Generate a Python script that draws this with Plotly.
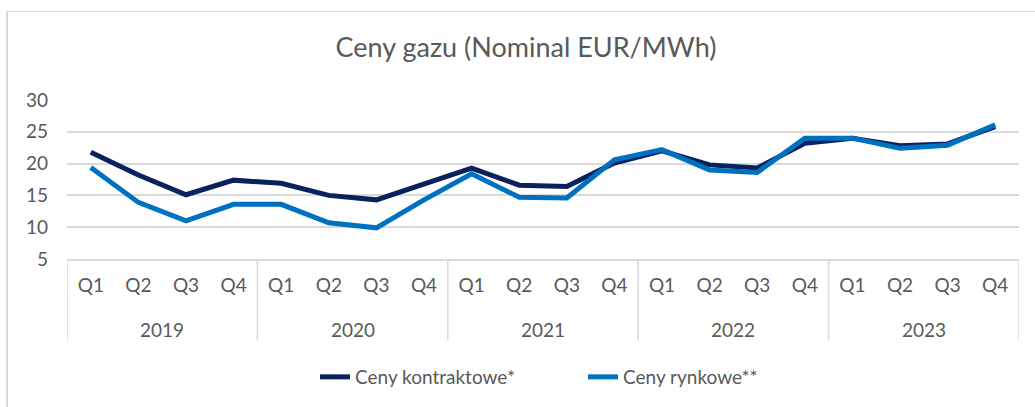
import plotly.graph_objects as go

years = ["2019", "2020", "2021", "2022", "2023"]
quarters = ["Q1", "Q2", "Q3", "Q4"]
contract = [21.8, 18.2, 15.1, 17.4, 16.9, 15.0, 14.3, 16.8, 19.3, 16.6, 16.4, 20.1,
            22.0, 19.8, 19.3, 23.2, 24.0, 22.8, 23.1, 25.8]
market = [19.4, 13.9, 11.0, 13.6, 13.6, 10.7, 9.9, 14.3, 18.4, 14.7, 14.6, 20.6,
          22.2, 19.0, 18.6, 24.0, 24.0, 22.4, 22.9, 26.1]
series_names = ["Ceny kontraktowe*", "Ceny rynkowe**"]
y_ticks = [5, 10, 15, 20, 25, 30]

labels = [q for _ in years for q in quarters]
idx = list(range(len(labels)))

W, H = 1035, 407
ml, mr, mt, mb = 67, 16, 100, 147
pw, ph = W - ml - mr, H - mt - mb

def py(p):
    return (H - mb - p) / ph

def px(p):
    return (p - ml) / pw

grey = "#595959"
gridc = "#D9D9D9"
font = "Lato"
fs = 19

fig = go.Figure()
fig.add_trace(go.Scatter(x=idx, y=contract, mode="lines", name=series_names[0],
                         line=dict(color="#0A2160", width=5)))
fig.add_trace(go.Scatter(x=idx, y=market, mode="lines", name=series_names[1],
                         line=dict(color="#0070C0", width=5)))

shapes = []
n = len(quarters)
for i in range(len(years) + 1):
    shapes.append(dict(type="line", xref="x", yref="paper", x0=i * n - 0.5, x1=i * n - 0.5,
                       y0=0, y1=py(342), line=dict(color=gridc, width=1.5)))
# outer chart border
shapes.append(dict(type="line", xref="paper", yref="paper", x0=px(7), x1=px(7),
                   y0=py(11), y1=py(420), line=dict(color=gridc, width=2)))
shapes.append(dict(type="line", xref="paper", yref="paper", x0=px(7), x1=px(1040),
                   y0=py(11), y1=py(11), line=dict(color=gridc, width=1)))

annotations = []
for i, yr in enumerate(years):
    annotations.append(dict(x=i * n + (n - 1) / 2, y=py(331), xref="x", yref="paper",
                            text=yr, showarrow=False, yanchor="middle",
                            font=dict(family=font, size=fs, color=grey)))

fig.update_layout(
    width=W, height=H,
    margin=dict(l=ml, r=mr, t=mt, b=mb),
    paper_bgcolor="white", plot_bgcolor="white",
    title=dict(text="Ceny gazu (Nominal EUR/MWh)", x=526 / W, xref="container", xanchor="center",
               y=1 - 48 / H, yanchor="middle",
               font=dict(family=font, size=27, color=grey)),
    font=dict(family=font, size=fs, color=grey),
    xaxis=dict(range=[-0.5, len(labels) - 0.5], tickvals=idx, ticktext=labels,
               showgrid=False, zeroline=False, showline=True, linecolor=gridc, linewidth=1.5,
               ticks="", ticklabelstandoff=8,
               tickfont=dict(family=font, size=fs, color=grey), fixedrange=True),
    yaxis=dict(range=[5, 30], tickvals=y_ticks, showgrid=True, gridcolor=gridc, gridwidth=1.5,
               zeroline=False, showline=False, ticks="", ticklabelstandoff=18,
               tickfont=dict(family=font, size=fs, color=grey), fixedrange=True),
    legend=dict(orientation="h", x=px(315), xanchor="left", y=py(377), yanchor="middle",
                font=dict(family=font, size=fs, color=grey),
                entrywidth=223, entrywidthmode="pixels",
                traceorder="normal", itemclick=False, itemdoubleclick=False),
    shapes=shapes,
    annotations=annotations,
    showlegend=True,
)

fig.write_html("out.html", config={"displayModeBar": False},
               post_script="document.body.style.margin='0';document.body.style.overflow='hidden';")
